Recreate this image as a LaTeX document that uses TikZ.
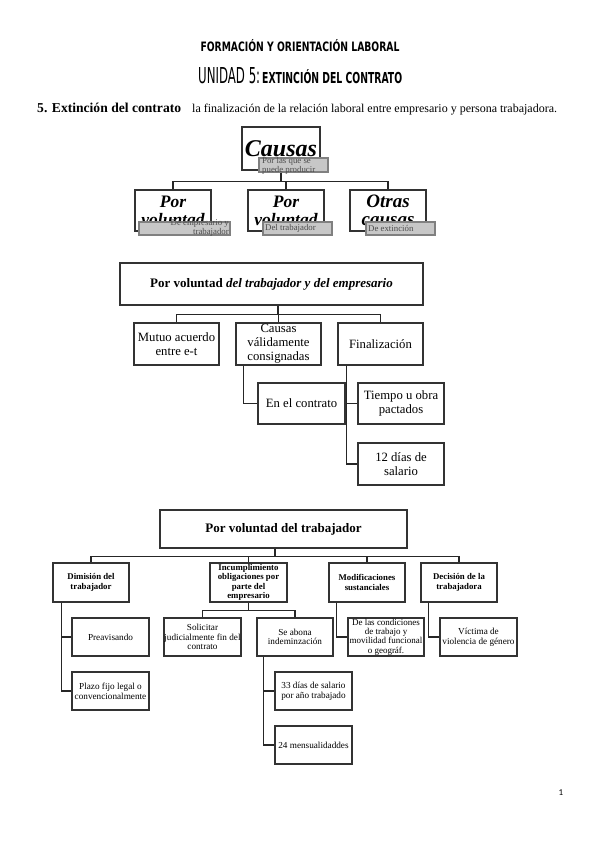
\documentclass[tikz,border=0pt]{standalone}
\usepackage{fontspec}
\usepackage{graphicx}
\setmainfont{Liberation Serif}
\newfontfamily\titlefont{DejaVu Sans}
\newfontfamily\pagefont{Carlito}

\begin{document}
\begin{tikzpicture}
[x=1pt,y=-1pt,
 box/.style={draw=black!80,line width=1.3pt,fill=white,inner sep=0pt,align=center},
 tag/.style={draw=black!50,line width=1.1pt,fill=black!22,inner sep=0pt},
 tagtext/.style={inner sep=0pt,text=black!70,font=\fontsize{8.8}{9.5}\selectfont},
 conn/.style={draw=black!85,line width=1.6pt},
 big/.style={font=\fontsize{17.5}{18}\selectfont\bfseries\itshape},
 mid/.style={font=\fontsize{12.7}{13.5}\selectfont},
 small/.style={font=\fontsize{9.2}{9.6}\selectfont},
 smallb/.style={font=\fontsize{8.8}{9.5}\selectfont\bfseries}]
\useasboundingbox (0,0) rectangle (599,848);

\node[anchor=base,inner sep=0] (title) at (300,52)
 {\resizebox{199pt}{12pt}{\titlefont\bfseries FORMACIÓN Y ORIENTACIÓN LABORAL}};
\node[anchor=base west,inner sep=0] (unidad) at (198,84)
 {\resizebox{62pt}{16pt}{\titlefont UNIDAD 5:}};
\node[anchor=base west,inner sep=0] (unidadtit) at (262,84)
 {\resizebox{140pt}{14pt}{\titlefont\bfseries EXTINCIÓN DEL CONTRATO}};
\node[anchor=base west,inner sep=0,font=\fontsize{13.6}{14}\selectfont\bfseries] (heading) at (37,113)
 {5. Extinción del contrato};
\node[anchor=base west,inner sep=0,font=\fontsize{12}{13}\selectfont] (headtxt) at (192,113)
 {la finalización de la relación laboral entre empresario y persona trabajadora.};

\node[box,minimum width=78,minimum height=43,font=\fontsize{24}{24}\selectfont\bfseries\itshape] (causas) at (281,148.5) {Causas};
\node[box,big,minimum width=76,minimum height=41] (pv1) at (173,210.5) {Por\\voluntad};
\node[box,big,minimum width=76,minimum height=41] (pv2) at (286,210.5) {Por\\voluntad};
\node[box,minimum width=76,minimum height=41,font=\fontsize{19}{18}\selectfont\bfseries\itshape] (oc) at (388,210.5) {Otras\\causas};
\node[tag,minimum width=69,minimum height=14] (causasl) at (293.5,165) {};
\node[tagtext,anchor=north west,align=left] (causaslt) at (262,157) {Por las que se\\puede producir};
\node[tag,minimum width=91,minimum height=13] (pv1l) at (184.5,228.5) {};
\node[tagtext,anchor=north east,align=right] (pv1lt) at (229,219) {De empresario y\\trabajador};
\node[tag,minimum width=69,minimum height=13] (pv2l) at (297.5,228.5) {};
\node[tagtext,anchor=west] (pv2lt) at (265,228.5) {Del trabajador};
\node[tag,minimum width=69,minimum height=13] (ocl) at (400.5,228.5) {};
\node[tagtext,anchor=west] (oclt) at (368,228.5) {De extinción};
\draw[conn] (causasl.south -| causas.south) -- ++(0,9) coordinate (j1);
\draw[conn] (pv1.north) |- (j1) -| (oc.north);
\draw[conn] (pv2.north) -- (pv2.north |- j1);

\node[box,minimum width=303,minimum height=42,font=\fontsize{13}{14}\selectfont\bfseries] (pvte) at (271.5,284)
 {Por voluntad \textit{del trabajador y del empresario}};
\node[box,mid,minimum width=85,minimum height=42] (mutuo) at (176.5,344) {Mutuo acuerdo\\entre e-t};
\node[box,mid,minimum width=85,minimum height=42,font=\fontsize{12.7}{14}\selectfont] (validas) at (278.5,344) {Causas\\válidamente\\consignadas};
\node[box,mid,minimum width=85,minimum height=42] (fin) at (380.5,344) {Finalización};
\node[box,mid,minimum width=87,minimum height=41] (contrato) at (301.5,403.5) {En el contrato};
\node[box,mid,minimum width=86,minimum height=41] (tiempo) at (401,403.5) {Tiempo u obra\\pactados};
\node[box,mid,minimum width=86,minimum height=42] (doce) at (401,464) {12 días de\\salario};
\draw[conn] ([xshift=6.5]pvte.south) -- ++(0,9) coordinate (j2);
\draw[conn] (mutuo.north) |- (j2) -| (fin.north);
\draw[conn] (validas.north) -- (validas.north |- j2);
\draw[conn] ([xshift=8]validas.south west) |- (contrato.west);
\draw[conn] ([xshift=9]fin.south west) |- (tiempo.west);
\draw[conn] ([xshift=9]fin.south west) |- (doce.west);

\node[box,minimum width=247,minimum height=38,font=\fontsize{13}{14}\selectfont\bfseries] (pvt) at (283.5,529) {Por voluntad del trabajador};
\node[box,smallb,minimum width=76,minimum height=39] (dimision) at (91,582.5) {Dimisión del\\trabajador};
\node[box,smallb,minimum width=77,minimum height=39] (incumpl) at (248.5,582.5) {Incumplimiento\\obligaciones por\\parte del\\empresario};
\node[box,smallb,minimum width=76,minimum height=39] (modif) at (367,582.5) {Modificaciones\\sustanciales};
\node[box,smallb,minimum width=76,minimum height=39] (decis) at (459,582.5) {Decisión de la\\trabajadora};
\node[box,small,minimum width=77,minimum height=38] (preav) at (110.5,637) {Preavisando};
\node[box,small,minimum width=77,minimum height=38] (plazo) at (110.5,691) {Plazo fijo legal o\\convencionalmente};
\node[box,small,minimum width=77,minimum height=38] (solic) at (202.5,637) {Solicitar\\judicialmente fin del\\contrato};
\node[box,small,minimum width=76,minimum height=38] (abona) at (295,637) {Se abona\\indeminzación};
\node[box,small,minimum width=77,minimum height=38] (dias) at (313.5,691) {33 días de salario\\por año trabajado};
\node[box,small,minimum width=77,minimum height=38] (mens) at (313.5,745) {24 mensualidaddes};
\node[box,small,minimum width=76,minimum height=38,font=\fontsize{9}{9.4}\selectfont] (condic) at (386,637) {De las condiciones\\de trabajo y\\movilidad funcional\\o geográf.};
\node[box,small,minimum width=77,minimum height=38] (victima) at (478.5,637) {Víctima de\\violencia de género};
\draw[conn] ([xshift=-8.5]pvt.south) -- ++(0,8) coordinate (j3);
\draw[conn] (dimision.north) |- (j3) -| (decis.north);
\draw[conn] (incumpl.north) -- (incumpl.north |- j3);
\draw[conn] (modif.north) -- (modif.north |- j3);
\draw[conn] (incumpl.south) -- ++(0,8) coordinate (j4);
\draw[conn] (solic.north) |- (j4) -| (abona.north);
\draw[conn] ([xshift=9]dimision.south west) |- (preav.west);
\draw[conn] ([xshift=9]dimision.south west) |- (plazo.west);
\draw[conn] ([xshift=7]abona.south west) |- (dias.west);
\draw[conn] ([xshift=7]abona.south west) |- (mens.west);
\draw[conn] ([xshift=8]modif.south west) |- (condic.west);
\draw[conn] ([xshift=8]decis.south west) |- (victima.west);

\node[inner sep=0,font=\pagefont\fontsize{9}{10}\selectfont] (pagenum) at (561,793) {1};
\end{tikzpicture}
\end{document}
